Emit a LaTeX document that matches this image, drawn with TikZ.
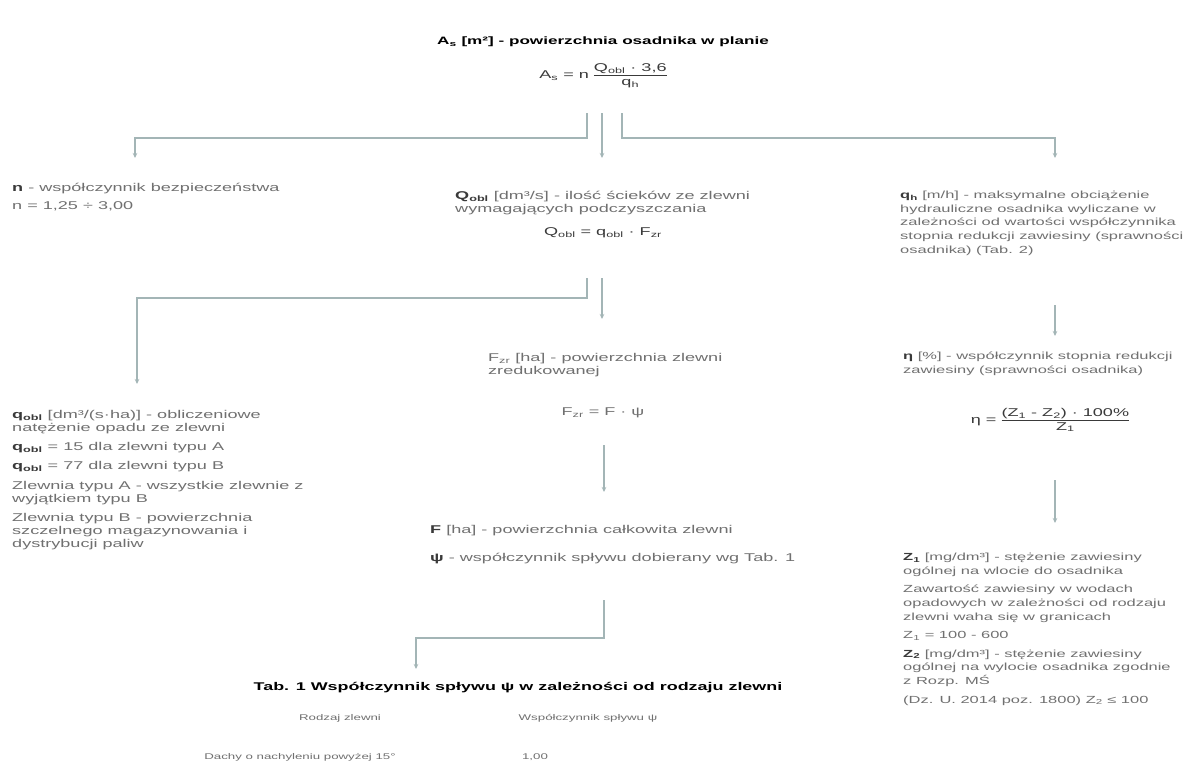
\documentclass[tikz,border=0pt]{standalone}
\usepackage{fontspec}
\setmainfont{Liberation Sans}[FakeStretch=1.6]
\usetikzlibrary{arrows.meta}
\definecolor{textgray}{HTML}{707070}
\definecolor{darkgray}{HTML}{3A3A3A}
\definecolor{linec}{HTML}{A3B5B6}
\newcommand{\myfrac}[2]{\ensuremath{\vcenter{\hbox{\begin{tabular}{@{}c@{}}#1\\[-1pt]\hline\rule{0pt}{10pt}#2\end{tabular}}}}}
\newcommand{\sym}[1]{\textcolor{darkgray}{\textbf{#1}}}
\begin{document}
\begin{tikzpicture}[x=1pt,y=-1pt,
  txt/.style={anchor=north west, inner sep=0pt, align=left, text=textgray,
    font=\fontsize{11.3}{13.2}\selectfont},
  rtxt/.style={txt, font=\fontsize{10.3}{13.6}\selectfont},
  frm/.style={anchor=center, inner sep=0pt, text=darkgray,
    font=\fontsize{11.3}{13.2}\selectfont},
  ttl/.style={anchor=center, inner sep=0pt, text=black,
    font=\fontsize{10.7}{13}\selectfont\bfseries},
  tab/.style={anchor=center, inner sep=0pt, text=textgray,
    font=\fontsize{8.3}{10}\selectfont},
  conn/.style={draw=linec, line width=1.3pt},
  arr/.style={conn, -{Stealth[length=5pt,width=4.5pt]}},
]
\useasboundingbox[fill=white] (0,0) rectangle (1203,763);

% ---- top
\node[ttl] (title) at (603,42) {A\textsubscript{s} [m²] - powierzchnia osadnika w planie};
\node[frm] (fAs) at (603,76) {A\textsubscript{s} = n \myfrac{Q\textsubscript{obl} · 3,6}{q\textsubscript{h}}};

\coordinate (t1) at (587,113);
\coordinate (t2) at (602,113);
\coordinate (t3) at (622,113);
\coordinate (e1) at (135,158);
\coordinate (e2) at (602,158);
\coordinate (e3) at (1055,158);
\draw[arr] (t1) |- (135,138) -- (e1);
\draw[arr] (t2) -- (e2);
\draw[arr] (t3) |- (1055,138) -- (e3);

% ---- level 2
\node[txt] (nblk) at (12,183) {\sym{n} - współczynnik bezpieczeństwa\\[5pt]
  n = 1,25 ÷ 3,00};

\node[txt] (Qblk) at (455,191) {\sym{Q\textsubscript{obl}} [dm³/s] - ilość ścieków ze zlewni\\
  wymagających podczyszczania};
\node[frm] (fQ) at (603,233) {Q\textsubscript{obl} = q\textsubscript{obl} · F\textsubscript{zr}};

\node[rtxt] (qhblk) at (900,191) {\sym{q\textsubscript{h}} [m/h] - maksymalne obciążenie\\
  hydrauliczne osadnika wyliczane w\\
  zależności od wartości współczynnika\\
  stopnia redukcji zawiesiny (sprawności\\
  osadnika) (Tab. 2)};

% ---- level 3 connectors
\coordinate (s1) at (587,278);
\coordinate (s2) at (602,278);
\coordinate (e4) at (137,384);
\coordinate (e5) at (602,319);
\draw[arr] (s1) |- (137,298) -- (e4);
\draw[arr] (s2) -- (e5);

\coordinate (r1) at (1055,305);
\coordinate (e6) at (1055,336);
\draw[arr] (r1) -- (e6);

% ---- level 3
\node[txt] (qoblk) at (12,410) {\sym{q\textsubscript{obl}} [dm³/(s·ha)] - obliczeniowe\\
  natężenie opadu ze zlewni\\[6pt]
  \sym{q\textsubscript{obl}} = 15 dla zlewni typu A\\[6pt]
  \sym{q\textsubscript{obl}} = 77 dla zlewni typu B\\[6pt]
  Zlewnia typu A - wszystkie zlewnie z\\
  wyjątkiem typu B\\[6pt]
  Zlewnia typu B - powierzchnia\\
  szczelnego magazynowania i\\
  dystrybucji paliw};

\node[txt] (Fzr) at (488,353) {F\textsubscript{zr} [ha] - powierzchnia zlewni\\
  zredukowanej};
\node[frm, text=textgray] (fF) at (603,413) {F\textsubscript{zr} = F · ψ};

\coordinate (m1) at (604,445);
\coordinate (e7) at (604,492);
\draw[arr] (m1) -- (e7);

\node[txt] (Fblk) at (430,525) {\sym{F} [ha] - powierzchnia całkowita zlewni\\[15pt]
  \sym{ψ} - współczynnik spływu dobierany wg Tab. 1};

\node[rtxt] (eta) at (903,352) {\sym{η} [\%] - współczynnik stopnia redukcji\\
  zawiesiny (sprawności osadnika)};
\node[frm] (feta) at (1050,421) {η = \myfrac{(Z\textsubscript{1} - Z\textsubscript{2}) · 100\%}{Z\textsubscript{1}}};

\coordinate (r2) at (1055,480);
\coordinate (e8) at (1055,523);
\draw[arr] (r2) -- (e8);

\node[rtxt] (Zblk) at (903,553) {\sym{Z\textsubscript{1}} [mg/dm³] - stężenie zawiesiny\\
  ogólnej na wlocie do osadnika\\[5pt]
  Zawartość zawiesiny w wodach\\
  opadowych w zależności od rodzaju\\
  zlewni waha się w granicach\\[5pt]
  Z\textsubscript{1} = 100 - 600\\[5pt]
  \sym{Z\textsubscript{2}} [mg/dm³] - stężenie zawiesiny\\
  ogólnej na wylocie osadnika zgodnie\\
  z Rozp. MŚ\\[5pt]
  (Dz. U. 2014 poz. 1800) Z\textsubscript{2} ≤ 100};

% ---- to table
\coordinate (b1) at (604,600);
\coordinate (e9) at (416,669);
\draw[arr] (b1) |- (416,638) -- (e9);

\node[ttl, font=\fontsize{11.2}{13}\selectfont\bfseries] (tabt) at (518,688) {Tab. 1 Współczynnik spływu ψ w zależności od rodzaju zlewni};
\node[tab] (h1) at (340,718) {Rodzaj zlewni};
\node[tab] (h2) at (588,718) {Współczynnik spływu ψ};
\node[tab] (c1) at (300,757) {Dachy o nachyleniu powyżej 15°};
\node[tab] (c2) at (535,757) {1,00};
\end{tikzpicture}
\end{document}
